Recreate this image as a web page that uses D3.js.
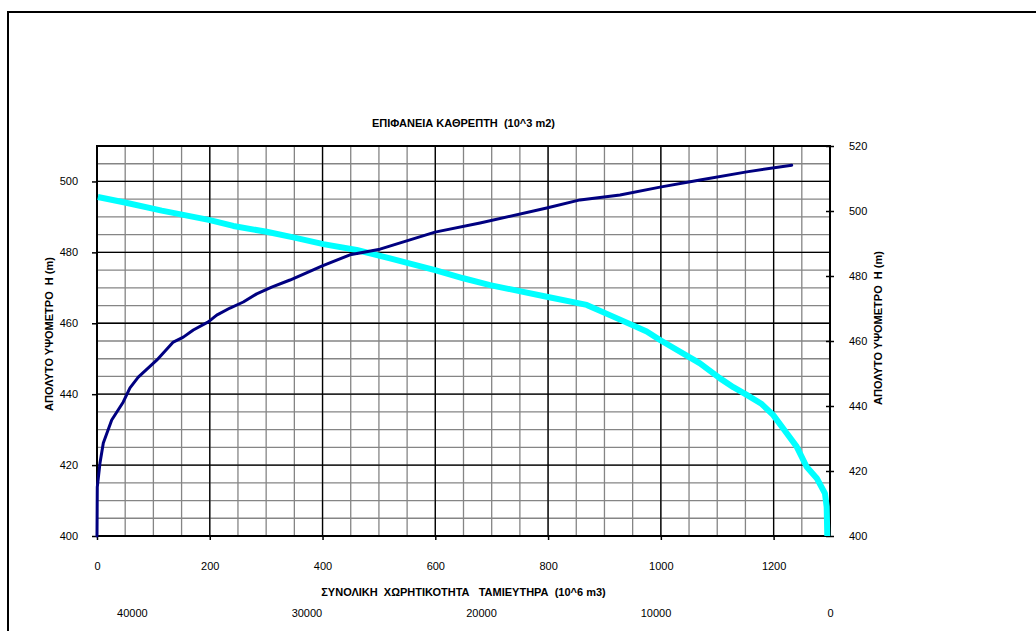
<!DOCTYPE html>
<html>
<head>
<meta charset="utf-8">
<script src="https://cdn.jsdelivr.net/npm/d3@7"></script>
<style>
  body { margin: 0; background: #fff; }
  svg { display: block; font-family: "Liberation Sans", Arial, sans-serif; }
  .tick text { font-size: 11px; fill: #000; }
  .title { font-size: 11px; font-weight: bold; fill: #000; white-space: pre; }
</style>
</head>
<body>
<svg id="chart" width="1036" height="631"></svg>
<script>
// storage curve (primary axes): volume 10^6 m3 vs elevation m
const storage = [0, 0.5, 5.3, 11.2, 26.1, 46.6, 58.5, 73.2, 105.9, 135.3, 153.1, 170.8, 197.4, 212.3,
  235.9, 259.5, 283.2, 309.8, 342.3, 399.6, 448.7, 501.9, 599.5, 679.3, 797.6, 856.6, 927.6,
  998.5, 1069.5, 1152.3, 1232.1];
const storageElev = [400, 413.8, 420.6, 426.2, 432.7, 437.8, 441.8, 444.8, 449.6, 454.7, 456.1, 458.1,
  460.4, 462.3, 464.3, 466.0, 468.3, 470.2, 472.2, 476.2, 479.3, 480.9, 485.7, 488.3, 492.5, 494.8,
  496.2, 498.4, 500.4, 502.7, 504.6];

// surface curve (secondary axes): area 10^3 m2 vs elevation m
const surface = [41950, 40400, 38290, 35530, 34190, 32280, 30750, 29030, 27120, 25210, 22630, 21010,
  19480, 16230, 13940, 12420, 10500, 9740, 7450, 6300, 5540, 4770, 3910, 3250, 2680, 1910, 1340,
  760, 290, 190, 155];
const surfaceElev = [504.3, 502.6, 500.1, 497.2, 495.4, 493.6, 491.9, 489.8, 488.0, 485.4, 481.8, 479.3,
  477.2, 473.6, 471.1, 467.5, 462.9, 460.3, 453.1, 448.5, 445.8, 443.4, 440.6, 437.2, 433.1, 427.5,
  421.3, 417.8, 413.1, 409.0, 400.0];

const storageTicks = [0, 200, 400, 600, 800, 1000, 1200];
const surfaceTicks = [0, 10000, 20000, 30000, 40000];
const leftTicks = [400, 420, 440, 460, 480, 500];
const rightTicks = [400, 420, 440, 460, 480, 500, 520];

const topTitle = "ΕΠΙΦΑΝΕΙΑ ΚΑΘΡΕΠΤΗ  (10^3 m2)";
const bottomTitle = "ΣΥΝΟΛΙΚΗ  ΧΩΡΗΤΙΚΟΤΗΤΑ   ΤΑΜΙΕΥΤΗΡΑ  (10^6 m3)";
const leftTitle = "ΑΠΟΛΥΤΟ ΥΨΟΜΕΤΡΟ  Η (m)";
const rightTitle = "ΑΠΟΛΥΤΟ ΥΨΟΜΕΤΡΟ  Η (m)";

const plot = { left: 97, right: 830, top: 146, bottom: 536 };
const fmt = d3.format('d');

const svg = d3.select('#chart');

svg.append('rect')
  .attr('x', 8).attr('y', 12)
  .attr('width', 1200).attr('height', 800)
  .attr('fill', '#fff').attr('stroke', '#000').attr('stroke-width', 2);

const x = d3.scaleLinear().domain([0, 1300]).range([plot.left, plot.right]);
const x2 = d3.scaleLinear().domain([42000, 0]).range([plot.left, plot.right]);
const yL = d3.scaleLinear().domain([400, 510]).range([plot.bottom, plot.top]);
const yR = d3.scaleLinear().domain([400, 520]).range([plot.bottom, plot.top]);

// minor grid
const grid = svg.append('g');
grid.selectAll('.vminor')
  .data(d3.range(50, 1300, 50))
  .enter().append('line')
  .attr('x1', d => x(d)).attr('x2', d => x(d))
  .attr('y1', plot.top).attr('y2', plot.bottom)
  .attr('stroke', '#858585').attr('stroke-width', 1.3);
grid.selectAll('.hminor')
  .data(d3.range(405, 510, 5))
  .enter().append('line')
  .attr('x1', plot.left).attr('x2', plot.right)
  .attr('y1', d => yL(d)).attr('y2', d => yL(d))
  .attr('stroke', '#858585').attr('stroke-width', 1.3);

// major grid
grid.selectAll('.vmajor')
  .data(storageTicks.slice(1))
  .enter().append('line')
  .attr('x1', d => x(d)).attr('x2', d => x(d))
  .attr('y1', plot.top).attr('y2', plot.bottom)
  .attr('stroke', '#000').attr('stroke-width', 1.3);
grid.selectAll('.hmajor')
  .data(leftTicks.slice(1))
  .enter().append('line')
  .attr('x1', plot.left).attr('x2', plot.right)
  .attr('y1', d => yL(d)).attr('y2', d => yL(d))
  .attr('stroke', '#000').attr('stroke-width', 1.3);

svg.append('rect')
  .attr('x', plot.left).attr('y', plot.top)
  .attr('width', plot.right - plot.left).attr('height', plot.bottom - plot.top)
  .attr('fill', 'none').attr('stroke', '#000').attr('stroke-width', 2);

// axes
const gLeft = svg.append('g')
  .attr('transform', `translate(${plot.left},0)`)
  .call(d3.axisLeft(yL).tickValues(leftTicks).tickFormat(fmt).tickSize(5).tickPadding(14));
const gRight = svg.append('g')
  .attr('transform', `translate(${plot.right},0)`)
  .call(d3.axisRight(yR).tickValues(rightTicks).tickFormat(fmt).tickSize(4).tickPadding(15));
gRight.selectAll('.tick line').attr('x1', -4);
const gBottom = svg.append('g')
  .attr('transform', `translate(0,${plot.bottom})`)
  .call(d3.axisBottom(x).tickValues(storageTicks).tickFormat(fmt).tickSize(4).tickPadding(22));
const gBottom2 = svg.append('g')
  .attr('transform', `translate(0,${plot.bottom})`)
  .call(d3.axisBottom(x2).tickValues(surfaceTicks).tickFormat(fmt).tickSize(0).tickPadding(73));

[gLeft, gRight, gBottom, gBottom2].forEach(g => {
  g.select('.domain').remove();
  g.selectAll('.tick line').attr('stroke', '#000').attr('stroke-width', 1.5);
  g.selectAll('.tick text').attr('font-family', null).attr('font-size', null);
});

// titles
svg.append('text').attr('class', 'title')
  .attr('x', (plot.left + plot.right) / 2).attr('y', 127)
  .attr('text-anchor', 'middle').text(topTitle);
svg.append('text').attr('class', 'title')
  .attr('x', (plot.left + plot.right) / 2).attr('y', 596)
  .attr('text-anchor', 'middle').text(bottomTitle);
svg.append('text').attr('class', 'title')
  .attr('transform', 'translate(53,334) rotate(-90)')
  .attr('text-anchor', 'middle').text(leftTitle);
svg.append('text').attr('class', 'title')
  .attr('transform', 'translate(882,328) rotate(-90)')
  .attr('text-anchor', 'middle').text(rightTitle);

// curves
const storageLine = d3.line()
  .x(d => x(d[0])).y(d => yL(d[1]));
const surfaceLine = d3.line()
  .x(d => x2(d[0])).y(d => yR(d[1]));

svg.append('path')
  .datum(surface.map((s, i) => [s, surfaceElev[i]]))
  .attr('d', surfaceLine)
  .attr('fill', 'none').attr('stroke', '#00ffff').attr('stroke-width', 6)
  .attr('stroke-linejoin', 'round');

svg.append('path')
  .datum(storage.map((v, i) => [v, storageElev[i]]))
  .attr('d', storageLine)
  .attr('fill', 'none').attr('stroke', '#000080').attr('stroke-width', 3)
  .attr('stroke-linejoin', 'round').attr('stroke-linecap', 'round');
</script>
</body>
</html>
